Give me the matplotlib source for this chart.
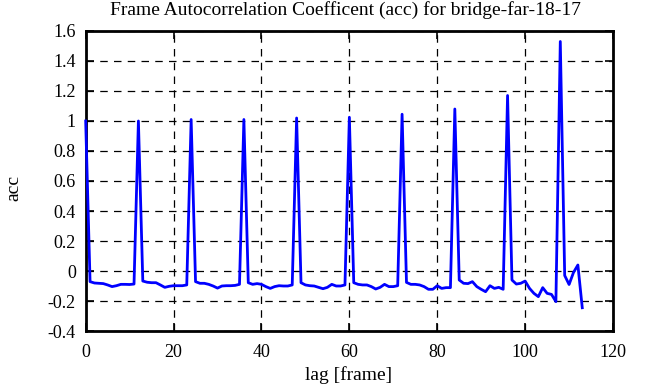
import matplotlib
matplotlib.use('Agg')
import matplotlib.pyplot as plt
import numpy as np

# autocorrelation coefficient per lag (frames 0..113)
lag = np.arange(0, 114)
acc = [
    1.00, -0.071, -0.080, -0.082, -0.084, -0.093, -0.104, -0.098, -0.089, -0.089, -0.090, -0.087,
    1.00, -0.067, -0.075, -0.078, -0.078, -0.093, -0.109, -0.102, -0.098, -0.098, -0.098, -0.093,
    1.01, -0.071, -0.082, -0.082, -0.089, -0.100, -0.114, -0.100, -0.098, -0.098, -0.096, -0.089,
    1.01, -0.078, -0.089, -0.084, -0.089, -0.104, -0.116, -0.104, -0.098, -0.100, -0.100, -0.093,
    1.02, -0.078, -0.093, -0.098, -0.100, -0.109, -0.118, -0.109, -0.089, -0.100, -0.100, -0.093,
    1.025, -0.078, -0.089, -0.093, -0.093, -0.104, -0.120, -0.109, -0.089, -0.104, -0.104, -0.098,
    1.045, -0.076, -0.089, -0.089, -0.093, -0.104, -0.122, -0.122, -0.098, -0.116, -0.111, -0.111,
    1.08, -0.060, -0.082, -0.084, -0.071, -0.104, -0.122, -0.138, -0.098, -0.116, -0.109, -0.122,
    1.17, -0.060, -0.087, -0.082, -0.067, -0.116, -0.149, -0.171, -0.111, -0.149, -0.156, -0.204,
    1.53, -0.030, -0.090, -0.010, 0.040, -0.245,
]

plt.rcParams['font.family'] = ['Liberation Serif', 'DejaVu Serif']
plt.rcParams['axes.unicode_minus'] = False

fig = plt.figure(figsize=(6.56, 3.87), dpi=100)
ax = fig.add_axes([0.1306, 0.1447, 0.8039, 0.7752])

ax.plot(lag, acc, color='#0000ff', linewidth=2.0, clip_on=False, zorder=5)

ax.set_xlim(0, 120)
ax.set_ylim(-0.4, 1.6)
ax.set_xticks(range(0, 121, 20))
ax.set_yticks(np.arange(-0.4, 1.61, 0.2))
ax.yaxis.set_major_formatter(plt.FuncFormatter(lambda v, p: '%g' % round(v, 2)))

ax.grid(True, color='black', linestyle=(0, (6, 5)), linewidth=0.9)
ax.tick_params(direction='in', length=6, width=1.2, top=True, right=True,
               labelsize=13, colors='black')
ax.tick_params(axis='y', pad=7)
ax.tick_params(axis='x', pad=9)
for s in ax.spines.values():
    s.set_linewidth(2.0)

fig.text(346 / 656, 1 - 10 / 387, 'Frame Autocorrelation Coefficent (acc) for bridge-far-18-17',
         fontsize=14, ha='center', va='center')
fig.text(349 / 656, 1 - 375 / 387, 'lag [frame]', fontsize=14, ha='center', va='center')
fig.text(14 / 656, 1 - 188 / 387, 'acc', fontsize=14, rotation=90, ha='center', va='center')

fig.savefig('out.png', dpi=100)
